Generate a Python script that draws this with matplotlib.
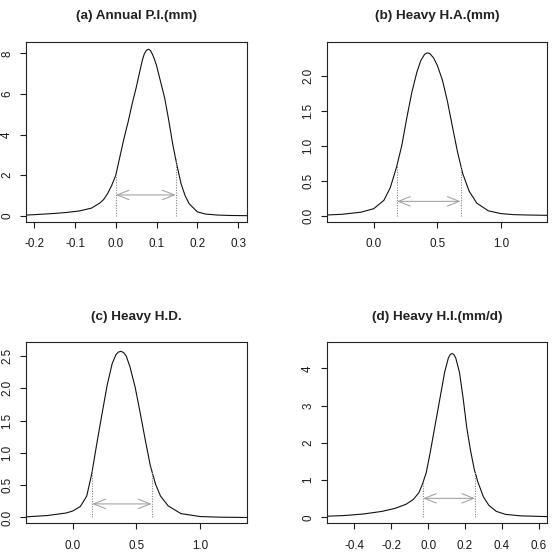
import matplotlib
matplotlib.use("Agg")
import matplotlib.pyplot as plt
import numpy as np

plt.rcParams['font.family'] = ['Liberation Sans', 'DejaVu Sans']
plt.rcParams['axes.unicode_minus'] = False

# ---------------- data ----------------
titles = ["(a) Annual P.I.(mm)", "(b) Heavy H.A.(mm)", "(c) Heavy H.D.", "(d) Heavy H.I.(mm/d)"]

x_a = [-0.22, -0.2, -0.15, -0.12, -0.09, -0.06, -0.04, -0.03, -0.02, -0.01, 0.0, 0.01, 0.02, 0.03,
       0.04, 0.05, 0.06, 0.065, 0.07, 0.075, 0.08, 0.085, 0.09, 0.095, 0.10, 0.11, 0.12, 0.13,
       0.14, 0.15, 0.16, 0.17, 0.18, 0.20, 0.22, 0.25, 0.28, 0.322]
y_a = [0.04, 0.06, 0.12, 0.17, 0.24, 0.38, 0.62, 0.8, 1.1, 1.5, 2.0, 2.9, 3.8, 4.6,
       5.5, 6.3, 7.2, 7.65, 7.97, 8.14, 8.2, 8.14, 7.95, 7.7, 7.4, 6.6, 5.8, 4.7,
       3.5, 2.5, 1.6, 1.0, 0.6, 0.2, 0.09, 0.04, 0.02, 0.01]

x_b = [-0.367, -0.25, -0.1, 0.0, 0.08, 0.13, 0.18, 0.22, 0.26, 0.30, 0.34, 0.37, 0.40, 0.42,
       0.44, 0.47, 0.50, 0.54, 0.58, 0.62, 0.66, 0.70, 0.75, 0.81, 0.9, 1.0, 1.1, 1.2, 1.362]
y_b = [0.01, 0.02, 0.05, 0.1, 0.22, 0.4, 0.7, 1.0, 1.4, 1.77, 2.06, 2.22, 2.31, 2.33,
       2.32, 2.26, 2.15, 1.94, 1.63, 1.26, 0.9, 0.6, 0.35, 0.18, 0.07, 0.03, 0.015, 0.01, 0.005]

x_c = [-0.367, -0.2, -0.05, 0.0, 0.06, 0.11, 0.15, 0.19, 0.23, 0.27, 0.31, 0.34, 0.36, 0.38,
       0.40, 0.42, 0.45, 0.49, 0.53, 0.57, 0.61, 0.65, 0.69, 0.75, 0.85, 1.0, 1.15, 1.369]
y_c = [0.01, 0.03, 0.07, 0.1, 0.17, 0.33, 0.68, 1.15, 1.6, 2.04, 2.38, 2.52, 2.56, 2.57,
       2.55, 2.5, 2.33, 2.02, 1.62, 1.2, 0.8, 0.52, 0.33, 0.18, 0.06, 0.015, 0.005, 0.0]

x_d = [-0.548, -0.45, -0.35, -0.25, -0.18, -0.12, -0.08, -0.05, -0.03, -0.01, 0.01, 0.03, 0.05,
       0.07, 0.09, 0.11, 0.12, 0.13, 0.14, 0.15, 0.17, 0.19, 0.21, 0.23, 0.25, 0.27, 0.30, 0.33,
       0.37, 0.42, 0.5, 0.645]
y_d = [0.03, 0.05, 0.09, 0.16, 0.24, 0.35, 0.48, 0.66, 0.9, 1.2, 1.7, 2.25, 2.8,
       3.35, 3.9, 4.28, 4.37, 4.4, 4.37, 4.28, 3.9, 3.2, 2.4, 1.8, 1.3, 0.95, 0.55, 0.32,
       0.16, 0.08, 0.04, 0.02]

# interval bounds and arrow heights
lo = [0.0, 0.183, 0.154, -0.027]
hi = [0.147, 0.683, 0.62, 0.255]
arrow_y = [1.03, 0.205, 0.21, 0.51]

xticks = [[-0.2, -0.1, 0.0, 0.1, 0.2, 0.3], [0.0, 0.5, 1.0], [0.0, 0.5, 1.0],
          [-0.4, -0.2, 0.0, 0.2, 0.4, 0.6]]
xticklabels = [["-0.2", "-0.1", "0.0", "0.1", "0.2", "0.3"], ["0.0", "0.5", "1.0"],
               ["0.0", "0.5", "1.0"], ["-0.4", "-0.2", "0.0", "0.2", "0.4", "0.6"]]
yticks = [[0, 2, 4, 6, 8], [0.0, 0.5, 1.0, 1.5, 2.0], [0.0, 0.5, 1.0, 1.5, 2.0, 2.5],
          [0, 1, 2, 3, 4]]
yticklabels = [["0", "2", "4", "6", "8"], ["0.0", "0.5", "1.0", "1.5", "2.0"],
               ["0.0", "0.5", "1.0", "1.5", "2.0", "2.5"], ["0", "1", "2", "3", "4"]]
xlims = [(-0.2204, 0.322), (-0.367, 1.362), (-0.367, 1.369), (-0.548, 0.645)]
ylims = [(-0.3, 8.57), (-0.09, 2.49), (-0.09, 2.71), (-0.16, 4.70)]

curves = [(x_a, y_a), (x_b, y_b), (x_c, y_c), (x_d, y_d)]

# ---------------- figure ----------------
fig = plt.figure(figsize=(5.54, 5.53), dpi=100)
positions = [[0.0469, 0.5986, 0.3989, 0.326], [0.5903, 0.5986, 0.3971, 0.326],
             [0.0469, 0.0537, 0.3989, 0.3273], [0.5903, 0.0537, 0.3971, 0.3273]]

for i in range(4):
    ax = fig.add_axes(positions[i])
    xs, ys = curves[i]
    ax.plot(xs, ys, color='#111111', lw=0.8)
    for b in (lo[i], hi[i]):
        top = np.interp(b, xs, ys)
        ax.plot([b, b], [0, top], color='#8a8080', lw=0.8, ls=(0, (1, 1.3)))
    ax.annotate("", xy=(hi[i], arrow_y[i]), xytext=(lo[i], arrow_y[i]),
                arrowprops=dict(arrowstyle='<->,head_length=0.85,head_width=0.34',
                                color='#a0a0a0', lw=0.75, shrinkA=0, shrinkB=0,
                                mutation_scale=10))
    ax.set_xlim(*xlims[i])
    ax.set_ylim(*ylims[i])
    ax.set_xticks(xticks[i])
    ax.set_xticklabels(xticklabels[i])
    ax.set_yticks(yticks[i])
    ax.set_yticklabels(yticklabels[i])
    ax.tick_params(axis='both', direction='out', length=4.3, width=0.8, labelsize=8.4,
                   colors='#1a1a1a')
    ax.tick_params(axis='x', pad=7.5)
    ax.tick_params(axis='y', pad=5, labelrotation=90)
    plt.setp(ax.get_yticklabels(), va='center')
    for s in ax.spines.values():
        s.set_linewidth(0.8)
        s.set_color('#222222')
    ax.annotate(titles[i], xy=(0.5, 1.0), xycoords='axes fraction', xytext=(0, 18.5),
                textcoords='offset points', ha='center', va='center',
                fontsize=9.7, fontweight='bold', color='#222222')

fig.savefig("out.png", dpi=100)
